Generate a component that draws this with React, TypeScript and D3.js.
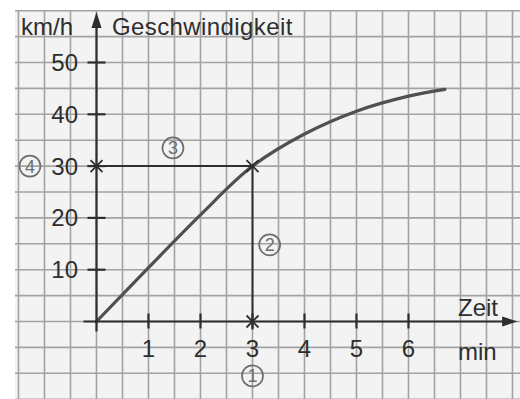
import React from "react";
import * as d3 from "d3";

// Speed over time (min -> km/h)
const timeMin = [0, 1, 2, 3, 4, 5, 6, 6.7];
const speedKmh = [0, 10.4, 20.6, 30, 36.2, 40.6, 43.5, 44.8];

const xTicks = [1, 2, 3, 4, 5, 6];
const yTicks = [10, 20, 30, 40, 50];

// Reading example: at 3 min the speed is 30 km/h
const readTime = 3;
const readSpeed = 30;

// Numbered reading steps, placed in data units
const stepLabels = ["1", "2", "3", "4"];
const stepTime = [3, 3.33, 1.47, -1.28];
const stepSpeed = [-10.5, 14.8, 33.5, 30];

const W = 520;
const H = 399;

export default function App() {
  const x = d3.scaleLinear().domain([0, 1]).range([96.5, 148.5]);
  const y = d3.scaleLinear().domain([0, 10]).range([321.5, 269.7]);

  const gridX = d3.range(-1.5, 8.51, 0.5);
  const gridY = d3.range(-15, 60.01, 5);

  const pts = timeMin.map((t, i) => [t, speedKmh[i]] as [number, number]);
  const line = d3
    .line<[number, number]>()
    .x((d) => x(d[0]))
    .y((d) => y(d[1]))
    .curve(d3.curveCatmullRom.alpha(0.5));

  const ink = "#2e2e2e";
  const gridCol = "#a3a3a3";
  const stepCol = "#6e6e6e";
  const font = "'Liberation Sans', Arial, sans-serif";

  const x0 = x(0);
  const y0 = y(0);

  const cross = (cx: number, cy: number, key: string) => (
    <g key={key} stroke={ink} strokeWidth={1.8}>
      <line x1={cx - 6} y1={cy - 6} x2={cx + 6} y2={cy + 6} />
      <line x1={cx - 6} y1={cy + 6} x2={cx + 6} y2={cy - 6} />
    </g>
  );

  return (
    <svg
      width={W}
      height={H}
      style={{ position: "absolute", left: 0, top: 0, background: "#fff" }}
    >
      {/* squared paper */}
      <rect x={15} y={11} width={W - 15} height={H - 11} fill="#f3f3f3" />
      <g stroke={gridCol} strokeWidth={1.6}>
        {gridX.map((t) => (
          <line key={"gx" + t} x1={x(t)} x2={x(t)} y1={11} y2={H} />
        ))}
        {gridY.map((v) => (
          <line key={"gy" + v} x1={15} x2={W} y1={y(v)} y2={y(v)} />
        ))}
      </g>

      {/* speed curve */}
      <path d={line(pts) || ""} fill="none" stroke="#505050" strokeWidth={3.2} strokeLinecap="round" />

      {/* reading guides */}
      <g stroke={ink} strokeWidth={2}>
        <line x1={x(0) - 9} x2={x(readTime)} y1={y(readSpeed)} y2={y(readSpeed)} />
        <line x1={x(readTime)} x2={x(readTime)} y1={y(readSpeed)} y2={y0 + 8} />
      </g>

      {/* axes */}
      <g stroke={ink} strokeWidth={2.2}>
        <line x1={x0 - 13} x2={x(7.9)} y1={y0} y2={y0} />
        <line x1={x0} x2={x0} y1={y0 + 10} y2={24} />
        {yTicks.map((v) => (
          <line key={"yt" + v} x1={x0 - 9} x2={x0 + 9} y1={y(v)} y2={y(v)} />
        ))}
        {xTicks.map((t) => (
          <line key={"xt" + t} x1={x(t)} x2={x(t)} y1={y0 - 8} y2={y0 + 7} />
        ))}
      </g>
      <path d={`M${x0},12 L${x0 - 5},28 L${x0 + 5},28 Z`} fill={ink} />
      <path d={`M${x(8.1)},${y0} L${x(7.8)},${y0 - 5} L${x(7.8)},${y0 + 5} Z`} fill={ink} />

      {cross(x(0), y(readSpeed), "c1")}
      {cross(x(readTime), y(readSpeed), "c2")}
      {cross(x(readTime), y0, "c3")}

      {/* labels */}
      <g fill={ink} fontFamily={font} fontSize={24}>
        {yTicks.map((v) => (
          <text key={"yl" + v} x={78} y={y(v) + 8.5} textAnchor="end">
            {v}
          </text>
        ))}
        {xTicks.map((t) => (
          <text key={"xl" + t} x={x(t)} y={357} textAnchor="middle">
            {t}
          </text>
        ))}
        <text x={21} y={35}>km/h</text>
        <text x={112} y={35} letterSpacing={0.4}>Geschwindigkeit</text>
        <text x={458} y={316}>Zeit</text>
        <text x={458} y={360}>min</text>
      </g>

      {/* step markers */}
      <g fontFamily={font}>
        {stepLabels.map((s, i) => (
          <g key={s}>
            <circle
              cx={x(stepTime[i])}
              cy={y(stepSpeed[i])}
              r={10.5}
              fill="none"
              stroke={stepCol}
              strokeWidth={1.7}
            />
            <text
              x={x(stepTime[i])}
              y={y(stepSpeed[i]) + 6.5}
              textAnchor="middle"
              fontSize={18}
              fill={stepCol}
            >
              {s}
            </text>
          </g>
        ))}
      </g>
    </svg>
  );
}
